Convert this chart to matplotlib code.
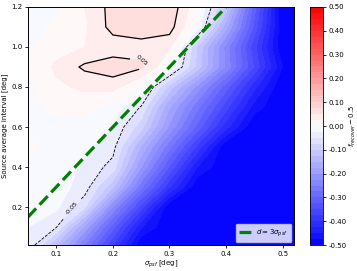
import numpy as np
import matplotlib.pyplot as plt

# grid of the map
sigma_psf = [0.05, 0.10, 0.15, 0.20, 0.25, 0.30, 0.35, 0.40, 0.45, 0.50, 0.52]
interval = [0.01, 0.1, 0.2, 0.3, 0.4, 0.5, 0.6, 0.7, 0.8, 0.9, 1.0, 1.1, 1.2]

# f_recover - 0.5, one row per source interval
f_minus_half = [
    [-0.025, -0.129, -0.253, -0.376, -0.500, -0.500, -0.500, -0.500, -0.500, -0.500, -0.500],
    [-0.025, -0.048, -0.182, -0.315, -0.447, -0.500, -0.500, -0.500, -0.500, -0.500, -0.500],
    [-0.015, -0.020, -0.070, -0.227, -0.364, -0.500, -0.500, -0.500, -0.500, -0.500, -0.500],
    [-0.010, -0.015, -0.035, -0.120, -0.269, -0.397, -0.500, -0.500, -0.500, -0.500, -0.500],
    [-0.005, -0.010, -0.030, -0.060, -0.200, -0.329, -0.451, -0.500, -0.500, -0.500, -0.500],
    [0.005, -0.010, -0.020, -0.040, -0.154, -0.269, -0.385, -0.500, -0.500, -0.500, -0.500],
    [-0.005, -0.005, -0.010, -0.025, -0.090, -0.206, -0.311, -0.416, -0.500, -0.500, -0.500],
    [-0.005, 0.005, 0.010, -0.012, -0.052, -0.173, -0.269, -0.365, -0.462, -0.500, -0.500],
    [-0.005, 0.020, 0.030, 0.035, -0.004, -0.110, -0.212, -0.315, -0.418, -0.500, -0.500],
    [0.000, 0.030, 0.055, 0.065, 0.055, 0.000, -0.111, -0.232, -0.354, -0.476, -0.500],
    [-0.005, 0.015, 0.025, 0.035, 0.040, 0.030, -0.103, -0.235, -0.368, -0.500, -0.500],
    [-0.010, 0.005, 0.020, 0.060, 0.065, 0.062, -0.010, -0.167, -0.333, -0.500, -0.500],
    [-0.010, -0.005, 0.025, 0.060, 0.075, 0.070, 0.005, -0.110, -0.316, -0.500, -0.500],
]

cbar_ticks = [0.5, 0.4, 0.3, 0.2, 0.1, 0.0, -0.1, -0.2, -0.3, -0.4, -0.5]

fig = plt.figure(figsize=(3.57, 2.71), dpi=100)
ax = fig.add_axes([0.0784, 0.0959, 0.7451, 0.8783])
cax = fig.add_axes([0.868, 0.0959, 0.036, 0.8783])

S, D = np.meshgrid(sigma_psf, interval)
Z = np.array(f_minus_half)

levels = np.linspace(-0.5, 0.5, 41)
cf = ax.contourf(S, D, Z, levels=levels, cmap='bwr', vmin=-0.5, vmax=0.5)
cs = ax.contour(S, D, Z, levels=[-0.05, 0.05], colors='k', linewidths=[0.6, 0.9])
ax.clabel(cs, fmt='%.2f', fontsize=4.5, manual=[(0.25, 0.93), (0.13, 0.19)])

xs = np.array([0.05, 0.4])
ax.plot(xs, 3 * xs, '--', color='green', lw=2.3, label=r'$d=3\sigma_{psf}$')

ax.set_xlim(0.05, 0.52)
ax.set_ylim(0.01, 1.2)
ax.set_xticks([0.1, 0.2, 0.3, 0.4, 0.5])
ax.set_yticks([0.2, 0.4, 0.6, 0.8, 1.0, 1.2])
ax.tick_params(labelsize=5, length=2, width=0.6, pad=2)
for s in ax.spines.values():
    s.set_linewidth(0.7)
ax.set_xlabel(r'$\sigma_{psf}$ [deg]', fontsize=5, labelpad=1.5)
ax.set_ylabel('Source average interval [deg]', fontsize=5, labelpad=2.5)
ax.legend(loc='lower right', fontsize=5, handlelength=1.8, borderpad=0.5,
          handletextpad=0.6, borderaxespad=0.4)

cb = fig.colorbar(cf, cax=cax, ticks=cbar_ticks, format='%.2f')
cb.ax.tick_params(labelsize=5, length=2, width=0.6, pad=2)
cb.outline.set_linewidth(0.6)
cb.set_label(r'$f_{recover} - 0.5$', fontsize=5, labelpad=1)

fig.savefig('out.png', dpi=100)
